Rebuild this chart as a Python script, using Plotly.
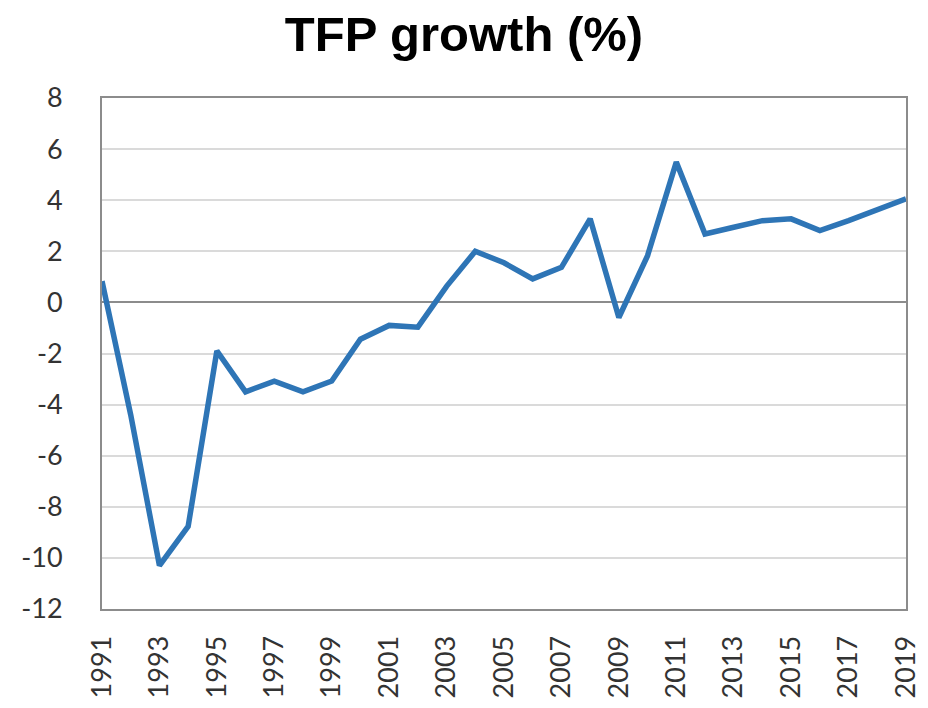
import plotly.graph_objects as go

# Datos
anios = list(range(1991, 2020))
tfp = [0.83, -4.4, -10.3, -8.77, -1.9, -3.5, -3.08, -3.5, -3.08, -1.44,
       -0.9, -0.97, 0.63, 2.0, 1.55, 0.92, 1.37, 3.27, -0.59, 1.83,
       5.49, 2.68, 2.94, 3.2, 3.27, 2.81, 3.2, 3.63, 4.05]
ticks_x = list(range(1991, 2020, 2))
ticks_y = list(range(-12, 9, 2))

trace = go.Scatter(
    x=anios,
    y=tfp,
    mode='lines',
    line=dict(color='#2e75b6', width=5.5),
    hovertemplate='%{x}: %{y:.2f}<extra></extra>'
)

fig = go.Figure(data=[trace])

fig.update_layout(
    title=dict(
        text='<b>TFP growth (%)</b>',
        font=dict(size=49, color='black', family='Liberation Sans, Arial'),
        x=0.5, xanchor='center',
        y=0.952, yanchor='middle'
    ),
    width=928,
    height=708,
    margin=dict(l=102, r=22, t=98, b=99),
    paper_bgcolor='white',
    plot_bgcolor='white',
    font=dict(family='Lato', size=27, color='#333333'),
    showlegend=False
)

fig.update_xaxes(
    range=[1991, 2019],
    tickvals=ticks_x,
    ticktext=[str(a) for a in ticks_x],
    tickangle=-90,
    ticklabelstandoff=14,
    automargin=False,
    showgrid=False,
    zeroline=False,
    showline=True, linecolor='#8c8c8c', linewidth=2, mirror=True,
)

fig.update_yaxes(
    range=[-12, 8],
    tickvals=ticks_y,
    ticktext=[str(v) for v in ticks_y],  # guion normal, no signo menos
    ticklabelstandoff=32,
    automargin=False,
    showgrid=True, gridwidth=2, gridcolor='#dadada',
    zeroline=True, zerolinewidth=2, zerolinecolor='#8c8c8c',
    showline=True, linecolor='#8c8c8c', linewidth=2, mirror=True,
)

# quitar el margen del body para que la figura empiece en (0, 0)
fig.write_html(
    "out.html",
    config={'displayModeBar': False},
    post_script="document.body.style.margin='0';"
)
